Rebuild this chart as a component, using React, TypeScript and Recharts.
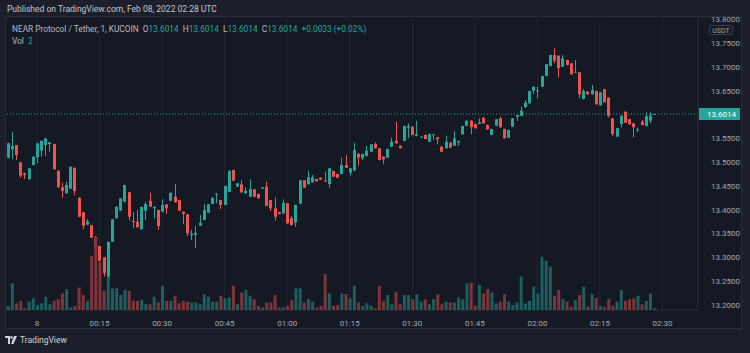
import { ComposedChart, Bar, Cell, XAxis, YAxis, CartesianGrid, ReferenceLine } from "recharts";

// 1-minute NEAR/USDT candles, first bar at 23:53
const startMinute = -7;

const open = [
  13.5096, 13.5272, 13.5363, 13.4999, 13.4768, 13.4642, 13.4942, 13.5104, 13.5243, 13.5363,
  13.5384, 13.5384, 13.4822, 13.4474, 13.4347, 13.4444, 13.4885, 13.4255, 13.3948, 13.3688,
  13.3681, 13.3423, 13.324, 13.3002, 13.2561, 13.333, 13.3822, 13.3982, 13.4171, 13.4368,
  13.3765, 13.3751, 13.3591, 13.3982, 13.4192, 13.4032, 13.3996, 13.3961, 13.4116, 13.4192,
  13.4276, 13.4207, 13.3961, 13.3906, 13.3465, 13.3477, 13.3667, 13.3786, 13.394, 13.4123,
  13.4326, 13.4207, 13.4102, 13.4381, 13.4837, 13.4486, 13.4537, 13.4347, 13.4276, 13.4432,
  13.4333, 13.4444, 13.4486, 13.4207, 13.4032, 13.3948, 13.3927, 13.4137, 13.3822, 13.3738,
  13.4129, 13.4621, 13.4537, 13.4579, 13.4648, 13.4675, 13.4616, 13.4543, 13.4816, 13.4753,
  13.4753, 13.4942, 13.478, 13.4822, 13.518, 13.5083, 13.5131, 13.5222, 13.5384, 13.5293,
  13.5117, 13.5096, 13.5327, 13.5453, 13.5348, 13.5447, 13.5726, 13.5747, 13.5552, 13.552,
  13.5573, 13.5432, 13.5573, 13.5524, 13.5327, 13.5293, 13.5411, 13.5348, 13.5419, 13.5587,
  13.5768, 13.5873, 13.5804, 13.5804, 13.5936, 13.5783, 13.5573, 13.5768, 13.5924, 13.5699,
  13.5516, 13.5747, 13.5957, 13.5978, 13.6155, 13.6239, 13.6504, 13.6487, 13.6588, 13.6813,
  13.7023, 13.7254, 13.7239, 13.7008, 13.7149, 13.708, 13.6882, 13.6891, 13.6329, 13.6483,
  13.6428, 13.6497, 13.6197, 13.6533, 13.6357, 13.5924, 13.5537, 13.5804, 13.6062, 13.5903,
  13.5819, 13.5667, 13.5852, 13.5762, 13.5873, 13.6014,
];

const high = [
  13.5411, 13.5642, 13.5363, 13.4999, 13.4785, 13.488, 13.5125, 13.5405, 13.546, 13.551,
  13.5425, 13.539, 13.4828, 13.457, 13.4591, 13.4912, 13.489, 13.426, 13.3953, 13.3807,
  13.3685, 13.345, 13.3245, 13.301, 13.3335, 13.3805, 13.407, 13.4248, 13.4527, 13.4375,
  13.3954, 13.3996, 13.4065, 13.4171, 13.436, 13.407, 13.4, 13.4221, 13.412, 13.4365,
  13.4543, 13.421, 13.3965, 13.391, 13.3576, 13.366, 13.3891, 13.4123, 13.412, 13.426,
  13.435, 13.421, 13.4505, 13.4828, 13.4842, 13.456, 13.4627, 13.4474, 13.4642, 13.4438,
  13.434, 13.448, 13.4591, 13.421, 13.4263, 13.3955, 13.4221, 13.4145, 13.3877, 13.4108,
  13.4626, 13.4626, 13.4822, 13.4732, 13.4655, 13.468, 13.4801, 13.488, 13.482, 13.476,
  13.5096, 13.5152, 13.488, 13.5411, 13.5187, 13.518, 13.5342, 13.5384, 13.5419, 13.53,
  13.5125, 13.5285, 13.5516, 13.5852, 13.5355, 13.577, 13.5819, 13.5755, 13.5867, 13.5545,
  13.558, 13.56, 13.5595, 13.553, 13.5335, 13.5558, 13.5418, 13.5657, 13.5452, 13.577,
  13.588, 13.588, 13.581, 13.5924, 13.5943, 13.579, 13.5705, 13.591, 13.5957, 13.5705,
  13.5685, 13.593, 13.6, 13.6168, 13.6308, 13.6505, 13.6595, 13.6588, 13.682, 13.7065,
  13.726, 13.7395, 13.7245, 13.7254, 13.7155, 13.7085, 13.7149, 13.6898, 13.654, 13.649,
  13.6624, 13.6505, 13.6478, 13.654, 13.6365, 13.593, 13.572, 13.5985, 13.607, 13.591,
  13.5825, 13.5726, 13.5888, 13.605, 13.605, 13.6014,
];

const low = [
  13.5083, 13.5062, 13.5047, 13.4675, 13.4648, 13.4635, 13.4935, 13.4978, 13.5117, 13.5131,
  13.5222, 13.4845, 13.4468, 13.4255, 13.434, 13.4438, 13.4312, 13.385, 13.3591, 13.368,
  13.341, 13.322, 13.2925, 13.2595, 13.2441, 13.3325, 13.3815, 13.3975, 13.4165, 13.3772,
  13.3618, 13.362, 13.3585, 13.3786, 13.406, 13.3822, 13.3576, 13.395, 13.3912, 13.4185,
  13.415, 13.3975, 13.3702, 13.345, 13.3366, 13.3192, 13.366, 13.378, 13.3935, 13.412,
  13.4137, 13.4017, 13.4095, 13.4375, 13.4605, 13.448, 13.436, 13.434, 13.427, 13.427,
  13.4235, 13.444, 13.4075, 13.3975, 13.3772, 13.3905, 13.392, 13.371, 13.3675, 13.3646,
  13.4122, 13.446, 13.453, 13.4572, 13.4593, 13.4628, 13.459, 13.4465, 13.469, 13.467,
  13.4748, 13.488, 13.4717, 13.4815, 13.4928, 13.5047, 13.5125, 13.5215, 13.5287, 13.504,
  13.4963, 13.509, 13.532, 13.539, 13.5287, 13.544, 13.5503, 13.5565, 13.5545, 13.551,
  13.548, 13.5425, 13.5468, 13.5377, 13.5215, 13.5285, 13.53, 13.534, 13.5348, 13.558,
  13.576, 13.5587, 13.5708, 13.58, 13.5812, 13.5686, 13.5565, 13.576, 13.573, 13.5495,
  13.551, 13.574, 13.5867, 13.597, 13.615, 13.623, 13.6434, 13.6344, 13.658, 13.6805,
  13.7015, 13.708, 13.6785, 13.7, 13.7038, 13.684, 13.6875, 13.6344, 13.632, 13.642,
  13.642, 13.621, 13.619, 13.6253, 13.5945, 13.5552, 13.553, 13.5735, 13.5825, 13.579,
  13.5524, 13.563, 13.5775, 13.5755, 13.5819, 13.6014,
];

const close = [
  13.5398, 13.5348, 13.5152, 13.4717, 13.4732, 13.4873, 13.5117, 13.5398, 13.5453, 13.5503,
  13.5419, 13.4852, 13.4474, 13.4396, 13.4522, 13.4907, 13.4396, 13.3856, 13.3667, 13.3759,
  13.3414, 13.3225, 13.2931, 13.2666, 13.333, 13.3801, 13.4066, 13.4242, 13.4522, 13.3856,
  13.3744, 13.3633, 13.406, 13.4123, 13.4066, 13.4066, 13.366, 13.4102, 13.4032, 13.436,
  13.4158, 13.3982, 13.3912, 13.3507, 13.3498, 13.3519, 13.373, 13.3996, 13.4116, 13.4255,
  13.4347, 13.4102, 13.4501, 13.4822, 13.4612, 13.4558, 13.4368, 13.4402, 13.4432, 13.4276,
  13.4242, 13.4474, 13.4081, 13.4032, 13.3856, 13.3912, 13.415, 13.3717, 13.3681, 13.4102,
  13.4621, 13.4465, 13.4684, 13.4684, 13.46, 13.4633, 13.4595, 13.4873, 13.4696, 13.4675,
  13.4942, 13.4885, 13.4873, 13.5257, 13.5096, 13.5173, 13.5243, 13.5377, 13.5293, 13.5047,
  13.5062, 13.5279, 13.5432, 13.5398, 13.5293, 13.5762, 13.5762, 13.5573, 13.5587, 13.5537,
  13.5489, 13.5594, 13.5587, 13.5482, 13.5222, 13.5432, 13.5306, 13.5503, 13.5447, 13.5762,
  13.5873, 13.5735, 13.5714, 13.584, 13.5819, 13.5693, 13.5699, 13.5903, 13.5735, 13.5503,
  13.5678, 13.5924, 13.5993, 13.6083, 13.6252, 13.6497, 13.6588, 13.6508, 13.6813, 13.7059,
  13.7254, 13.7134, 13.6975, 13.7185, 13.7044, 13.6848, 13.6903, 13.6428, 13.6497, 13.6428,
  13.6519, 13.6218, 13.647, 13.626, 13.5972, 13.5594, 13.5714, 13.5978, 13.5831, 13.5798,
  13.5735, 13.5688, 13.5783, 13.5972, 13.5981, 13.6014,
];

const volume = [
  5, 32, 8, 11, 2, 10, 14, 6, 8, 16,
  7, 11, 13, 20, 25, 3, 5, 27, 18, 11,
  65, 88, 58, 23, 40, 26, 26, 18, 24, 23,
  11, 11, 12, 7, 7, 16, 9, 29, 11, 11,
  17, 8, 11, 10, 9, 9, 7, 19, 16, 10,
  10, 17, 14, 15, 29, 7, 21, 24, 17, 13,
  5, 3, 9, 9, 18, 3, 3, 5, 12, 26,
  26, 9, 13, 10, 3, 5, 43, 20, 5, 6,
  20, 19, 14, 29, 9, 5, 8, 5, 2, 29,
  11, 18, 7, 22, 7, 18, 18, 13, 19, 10,
  13, 7, 13, 19, 7, 10, 9, 9, 15, 13,
  32, 33, 5, 30, 20, 25, 21, 8, 10, 19,
  10, 6, 9, 40, 8, 11, 28, 20, 64, 59,
  52, 17, 24, 13, 10, 4, 12, 18, 28, 4,
  19, 14, 5, 4, 13, 5, 10, 24, 11, 13,
  14, 17, 7, 11, 20, 2,
];

const timeTicks = [0, 15, 30, 45, 60, 75, 90, 105, 120, 135, 150];
const timeLabels = ["8", "00:15", "00:30", "00:45", "01:00", "01:15", "01:30", "01:45", "02:00", "02:15", "02:30"];
const gridPrices = [13.2, 13.25, 13.3, 13.35, 13.4, 13.45, 13.5, 13.55, 13.6, 13.65, 13.7, 13.75, 13.8];
// 13.6000 sits under the last-price tag, so the axis leaves it out
const axisPrices = [13.2, 13.25, 13.3, 13.35, 13.4, 13.45, 13.5, 13.55, 13.65, 13.7, 13.75, 13.8];
const lastPrice = 13.6014;

const UP = "#26a69a";
const DOWN = "#ef5350";
const UP_VOL = "#1d5f5d";
const DOWN_VOL = "#7e3539";
const GRID = "#222632";
const AXIS_TEXT = "#a6a9b2";
const BG = "#151924";

const rows = open.map((o, i) => ({
  t: startMinute + i,
  open: o,
  high: high[i],
  low: low[i],
  close: close[i],
  range: [low[i], high[i]],
  volume: volume[i],
}));

const xDomain = [-7.67, 158.5];
const priceDomain = [13.1895, 13.8074];

function Candle(props: any) {
  const { x, y, width, height, payload } = props;
  const { open: o, close: c, high: h, low: l } = payload;
  const color = c >= o ? UP : DOWN;
  const cx = Math.floor(x + width / 2) + 0.5;
  const k = h > l ? height / (h - l) : 0;
  const top = y + (h - Math.max(o, c)) * k;
  const bottom = y + (h - Math.min(o, c)) * k;
  const bodyH = Math.max(1, bottom - top);
  return (
    <g>
      <line x1={cx} x2={cx} y1={y} y2={y + Math.max(height, 1)} stroke={color} strokeWidth={1} />
      <rect x={cx - 1.5} y={top} width={3} height={bodyH} fill={color} />
    </g>
  );
}

function PriceTag(props: any) {
  const { viewBox } = props;
  const left = viewBox.x + viewBox.width + 1;
  return (
    <g>
      <rect x={left} y={viewBox.y - 6} width={41} height={12} fill={UP} />
      <text x={left + 8} y={viewBox.y + 3} fill="#ffffff" fontSize={8} fontFamily="Roboto, sans-serif">
        {lastPrice.toFixed(4)}
      </text>
    </g>
  );
}

const fmtTime = (v: number) => timeLabels[timeTicks.indexOf(v)] ?? "";

export default function App() {
  return (
    <div
      style={{
        position: "absolute",
        left: 0,
        top: 0,
        width: 750,
        height: 353,
        background: "#1c1f29",
        fontFamily: "Roboto, sans-serif",
        overflow: "hidden",
      }}
    >
      <div style={{ position: "absolute", left: 7, top: 4, fontSize: 8.5, color: "#c3c6ce", whiteSpace: "nowrap" }}>
        Published on TradingView.com, Feb 08, 2022 02:28 UTC
      </div>

      <div
        style={{
          position: "absolute",
          left: 5,
          top: 16,
          width: 737,
          height: 313,
          background: BG,
          border: "1px solid #2a2e39",
          boxSizing: "border-box",
        }}
      />

      {/* price pane: grid, axes, candles */}
      <div style={{ position: "absolute", left: 5, top: 16 }}>
        <ComposedChart width={737} height={313} data={rows} margin={{ top: 0, right: 0, bottom: 0, left: 0 }}>
          <CartesianGrid stroke={GRID} horizontalValues={gridPrices} verticalValues={timeTicks} />
          <XAxis
            type="number"
            dataKey="t"
            domain={xDomain}
            ticks={timeTicks}
            interval={0}
            allowDataOverflow
            tickFormatter={fmtTime}
            height={19}
            tickLine={false}
            tickMargin={4}
            axisLine={{ stroke: "#2a2e39" }}
            tick={{ fill: AXIS_TEXT, fontSize: 8 }}
          />
          <YAxis
            yAxisId="price"
            orientation="right"
            domain={priceDomain}
            ticks={axisPrices}
            interval={0}
            allowDataOverflow
            width={44}
            tickLine={false}
            tickMargin={7}
            axisLine={{ stroke: "#2a2e39" }}
            tickFormatter={(v: number) => v.toFixed(4)}
            tick={{ fill: AXIS_TEXT, fontSize: 8, textAnchor: "start" }}
          />
          <ReferenceLine
            yAxisId="price"
            y={lastPrice}
            stroke={UP}
            strokeDasharray="1 2"
            label={<PriceTag />}
          />
          <Bar yAxisId="price" dataKey="range" barSize={3} shape={<Candle />} isAnimationActive={false} />
        </ComposedChart>
      </div>

      {/* volume overlay */}
      <div style={{ position: "absolute", left: 5, top: 16, pointerEvents: "none" }}>
        <ComposedChart width={737} height={313} data={rows} margin={{ top: 0, right: 44, bottom: 19, left: 0 }}>
          <XAxis type="number" dataKey="t" domain={xDomain} allowDataOverflow hide />
          <YAxis yAxisId="vol" domain={[0, 353]} hide />
          <Bar yAxisId="vol" dataKey="volume" barSize={3} isAnimationActive={false}>
            {rows.map((r, i) => (
              <Cell key={i} fill={r.close >= r.open ? UP_VOL : DOWN_VOL} />
            ))}
          </Bar>
        </ComposedChart>
      </div>

      <div
        style={{
          position: "absolute",
          left: 709,
          top: 25,
          width: 24,
          height: 10,
          border: "1px solid #3a3e4a",
          borderRadius: 2,
          background: BG,
          color: AXIS_TEXT,
          fontSize: 7,
          lineHeight: "10px",
          textAlign: "center",
          boxSizing: "border-box",
        }}
      >
        USDT
      </div>

      <div style={{ position: "absolute", left: 12, top: 24, fontSize: 8.3, color: "#b7bac2", whiteSpace: "nowrap" }}>
        NEAR Protocol / Tether, 1, KUCOIN{"\u00a0\u00a0"}O<span style={{ color: UP }}>13.6014</span>
        {"\u00a0\u00a0"}H<span style={{ color: UP }}>13.6014</span>
        {"\u00a0\u00a0"}L<span style={{ color: UP }}>13.6014</span>
        {"\u00a0\u00a0"}C<span style={{ color: UP }}>13.6014</span>
        {"\u00a0\u00a0"}
        <span style={{ color: UP }}>+0.0033 (+0.02%)</span>
      </div>
      <div style={{ position: "absolute", left: 12, top: 36, fontSize: 8.3, color: "#b7bac2", whiteSpace: "nowrap" }}>
        Vol{"\u00a0\u00a0"}<span style={{ color: UP }}>2</span>
      </div>

      <div style={{ position: "absolute", left: 5, top: 335, display: "flex", alignItems: "center", gap: 3 }}>
        <svg width={12} height={8} viewBox="0 0 12 8">
          <path d="M0 0H5V8H3V2H0Z" fill="#d1d4dc" />
          <circle cx={6.5} cy={1.5} r={1.3} fill="#d1d4dc" />
          <path d="M9 0H12L8.5 8H6Z" fill="#d1d4dc" />
        </svg>
        <span style={{ fontSize: 8.5, color: "#d1d4dc" }}>TradingView</span>
      </div>
    </div>
  );
}
